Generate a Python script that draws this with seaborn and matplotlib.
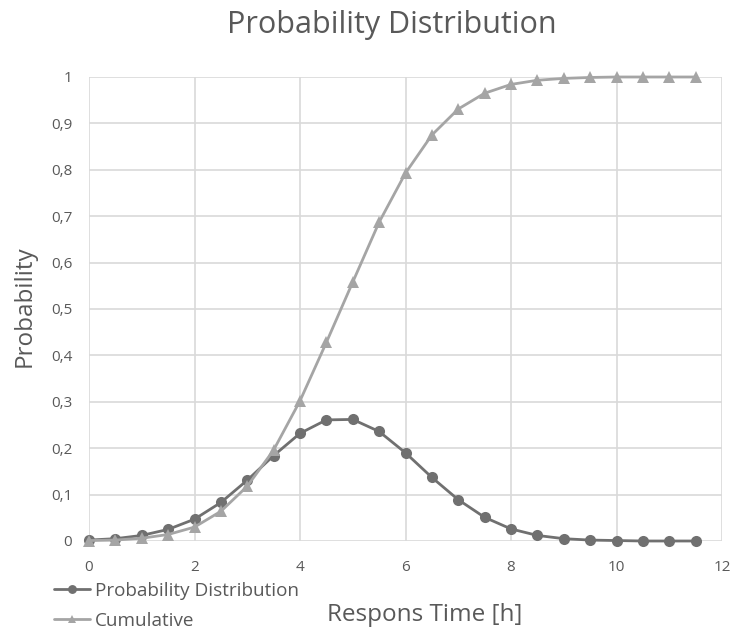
import numpy as np
import pandas as pd
import matplotlib
matplotlib.use("Agg")
import matplotlib.pyplot as plt
import seaborn as sns
from matplotlib.ticker import FuncFormatter

hours = [0, 0.5, 1, 1.5, 2, 2.5, 3, 3.5, 4, 4.5, 5, 5.5, 6, 6.5, 7, 7.5, 8, 8.5, 9, 9.5, 10, 10.5, 11, 11.5]
prob = [0.002, 0.005, 0.012, 0.025, 0.047, 0.083, 0.131, 0.184, 0.232, 0.261, 0.262, 0.236,
        0.190, 0.137, 0.089, 0.051, 0.026, 0.012, 0.005, 0.002, 0.001, 0.0, 0.0, 0.0]
cumulative = [0.001, 0.002, 0.006, 0.014, 0.030, 0.064, 0.118, 0.196, 0.302, 0.428, 0.558, 0.687,
              0.793, 0.875, 0.931, 0.965, 0.984, 0.993, 0.997, 0.999, 1.0, 1.0, 1.0, 1.0]
series_names = ["Probability Distribution", "Cumulative"]

sns.set_style("whitegrid")
plt.rcParams['font.family'] = ['Open Sans', 'DejaVu Sans']

df = pd.DataFrame({
    "x": hours * 2,
    "y": prob + cumulative,
    "series": [series_names[0]] * len(hours) + [series_names[1]] * len(hours),
})

W, H = 734, 631
fig = plt.figure(figsize=(W / 100, H / 100), dpi=100)
ax = fig.add_axes([89 / W, 90 / H, 633 / W, 464 / H])

palette = {series_names[0]: "#707070", series_names[1]: "#a5a5a5"}
markers = {series_names[0]: "o", series_names[1]: "^"}
sns.lineplot(data=df, x="x", y="y", hue="series", style="series", palette=palette,
             markers=markers, dashes=False, markersize=8, linewidth=2.0,
             markeredgewidth=0, ax=ax)

ax.set_xlim(0, 12)
ax.set_ylim(0, 1)
ax.set_xticks(np.arange(0, 13, 2))
ax.set_yticks(np.arange(0, 1.01, 0.1))
ax.yaxis.set_major_formatter(FuncFormatter(lambda v, p: ("%g" % round(v, 1)).replace(".", ",")))
ax.grid(True, color="#d9d9d9", linewidth=1.2)
for s in ax.spines.values():
    s.set_visible(False)
ax.tick_params(axis="both", length=0, labelsize=11, colors="#595959")
ax.tick_params(axis="x", pad=14)
ax.tick_params(axis="y", pad=12)
for ln in ax.lines:
    ln.set_clip_on(False)

ax.set_xlabel("Respons Time [h]", fontsize=17.5, color="#595959")
ax.xaxis.label.set_va("baseline")
ax.xaxis.set_label_coords((425 - 89) / 633, (541 - 621) / 464)
ax.set_ylabel("Probability", fontsize=17.5, color="#595959")
ax.yaxis.set_label_coords((37 - 89) / 633, (541 - 306) / 464)

fig.text(392 / W, 1 - 33 / H, "Probability Distribution", ha="center", va="baseline",
         fontsize=22, color="#595959")

leg = ax.legend(loc="upper left", bbox_to_anchor=(54 / W, 1 - 582 / H), bbox_transform=fig.transFigure,
                frameon=False, fontsize=13.6, handlelength=1.9, handletextpad=0.25,
                labelspacing=0.62, borderpad=0, borderaxespad=0, markerscale=0.8)
for t in leg.get_texts():
    t.set_color("#595959")

fig.savefig("out.png", dpi=100)
